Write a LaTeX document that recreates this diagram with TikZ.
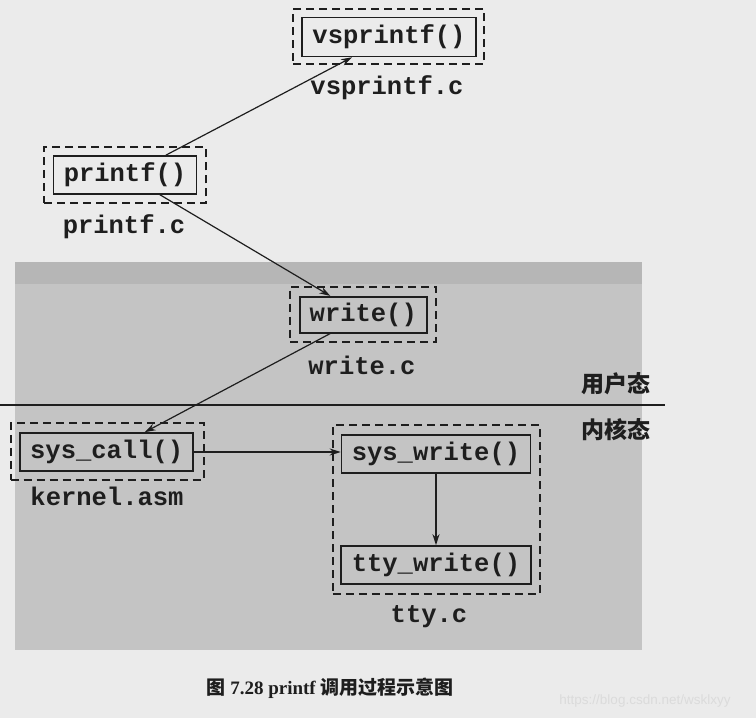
\documentclass[tikz,border=0pt]{standalone}
\usepackage{fontspec}
\setmainfont{Liberation Serif}
\setmonofont{Liberation Mono}
\setsansfont{Liberation Sans}
\newfontfamily\cjk{Noto Sans CJK SC}
\usetikzlibrary{arrows.meta}
\definecolor{pagebg}{HTML}{EBEBEB}
\definecolor{regiongray}{HTML}{C4C4C4}
\definecolor{regionband}{HTML}{B6B6B6}
\definecolor{ink}{HTML}{1E1E1E}
\tikzset{
  codefont/.style={font=\fontsize{25.5}{28}\selectfont\ttfamily\bfseries, text=ink},
  funcbox/.style={draw=ink, line width=1.6pt, codefont, inner sep=0pt},
  filebox/.style={draw=ink, line width=2pt, dash pattern=on 8pt off 5pt, inner sep=0pt},
  filelabel/.style={codefont, inner sep=0pt},
  modelabel/.style={font=\fontsize{23}{25}\selectfont\cjk\bfseries, text=ink, inner sep=0pt},
  arr/.style={draw=ink, line width=1.2pt, -{Stealth[length=11pt,width=7pt]}},
}
\begin{document}
\begin{tikzpicture}[x=1pt,y=-1pt]
\useasboundingbox (0,0) rectangle (756,718);
\fill[pagebg] (0,0) rectangle (756,718);
\fill[regiongray] (15,262) rectangle (642,650);
\fill[regionband] (15,262) rectangle (642,284);

% function boxes
\node[funcbox, minimum width=174pt, minimum height=39pt] (vs) at (389,37) {vsprintf()};
\node[filebox, minimum width=191pt, minimum height=55pt] (vsf) at (388.5,36.5) {};
\node[filelabel] (vsl) at (387,88) {vsprintf.c};

\node[funcbox, minimum width=143pt, minimum height=38pt] (pf) at (125,175) {printf()};
\node[filebox, minimum width=162pt, minimum height=56pt] (pff) at (125,175.3) {};
\node[filelabel] (pfl) at (124,227) {printf.c};

\node[funcbox, minimum width=127pt, minimum height=36pt] (wr) at (363.3,314.7) {write()};
\node[filebox, minimum width=146pt, minimum height=55pt] (wrf) at (363,314) {};
\node[filelabel] (wrl) at (362,365) {write.c};

\node[funcbox, minimum width=173pt, minimum height=38pt] (sc) at (106.7,452) {sys\_call()};
\node[filebox, minimum width=193pt, minimum height=57pt] (scf) at (107,451.3) {};
\node[filelabel] (scl) at (107,496) {kernel.asm};

\node[funcbox, minimum width=189pt, minimum height=38pt] (sw) at (436,453.8) {sys\_write()};
\node[funcbox, minimum width=190pt, minimum height=38pt] (tw) at (436,565) {tty\_write()};
\node[filebox, minimum width=207pt, minimum height=169pt] (ttf) at (436.3,509.5) {};
\node[filelabel] (ttl) at (429,617) {tty.c};

% user / kernel divide
\coordinate (hl) at (0,405);
\coordinate (hr) at (665,405);
\draw[ink, line width=1.3pt] (hl) -- (hr);
\node[modelabel] (um) at (616,384) {用户态};
\node[modelabel] (km) at (616,430) {内核态};

% connectors
\draw[arr] ([xshift=-31.5pt]pf.north east) -- ([xshift=-37pt]vs.south);
\draw[arr] ([xshift=35pt]pf.south) -- ([xshift=-33pt]wr.north);
\draw[arr] ([xshift=-33pt]wr.south) -- ([xshift=38pt]sc.north);
\draw[arr] (sc.east) -- (sc.east -| sw.west);
\draw[arr] (sw.south -| tw.north) -- (tw.north);

% caption and watermark
\node[font=\fontsize{19}{21}\selectfont\bfseries, text=ink, inner sep=0pt] (cap) at (330,688) {{\cjk 图} 7.28 printf {\cjk 调用过程示意图}};
\node[font=\fontsize{13.5}{15}\selectfont\sffamily, text=white!72!gray, inner sep=0pt] (wm) at (645,701) {https://blog.csdn.net/wsklxyy};
\end{tikzpicture}
\end{document}
